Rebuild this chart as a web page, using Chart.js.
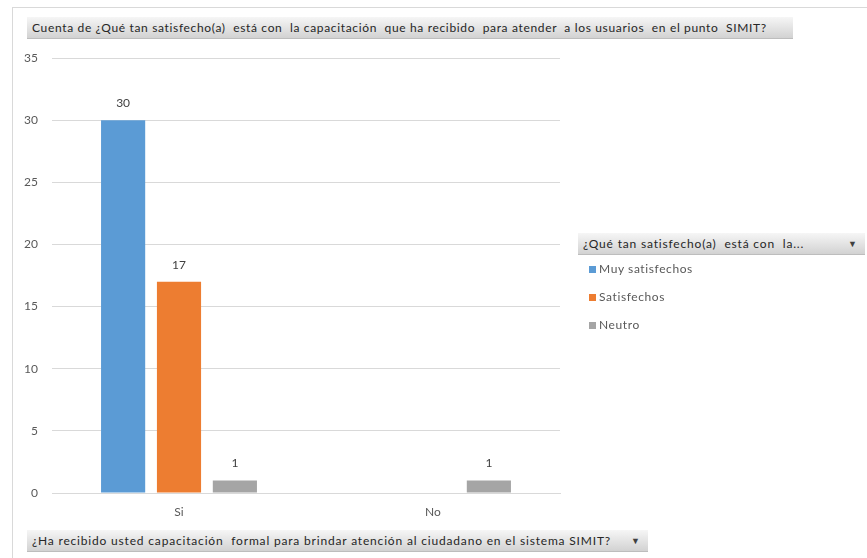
<!DOCTYPE html>
<html>
<head>
<meta charset="utf-8">
<script src="https://cdn.jsdelivr.net/npm/chart.js@4/dist/chart.umd.min.js"></script>
<style>
  html, body { margin: 0; padding: 0; background: #fff; }
  #wrap { position: relative; width: 867px; height: 558px; overflow: hidden; font-family: Lato, "Open Sans", sans-serif; }
  #frame { position: absolute; left: 12px; top: 7px; width: 900px; height: 600px; border-left: 1px solid #d9d9d9; border-top: 1px solid #d9d9d9; }
  canvas { position: absolute; left: 0; top: 0; }
  .field { position: absolute; height: 22px; line-height: 22px; font-size: 12px; color: #262626; padding-left: 5px; box-sizing: border-box;
           background: linear-gradient(#f6f6f6, #d2d2d2); border-bottom: 1px solid #bdbdbd; white-space: pre; overflow: hidden; letter-spacing: 0.66px; }
  .arrow { position: absolute; right: 8px; top: 0; font-size: 9px; color: #404040; letter-spacing: 0; }
  #legTitle, #axisField { letter-spacing: 0.82px; }
  #legend { position: absolute; left: 589px; top: 260px; font-size: 12px; color: #595959; letter-spacing: 0.6px; }
  .item { height: 28px; line-height: 18px; display: flex; align-items: flex-start; }
  .sw { width: 7px; height: 7px; margin-top: 6px; margin-right: 3px; }
</style>
</head>
<body>
<div id="wrap">
  <div id="frame"></div>
  <canvas id="c" width="867" height="558"></canvas>
  <div class="field" id="title" style="left:27px; top:17px; width:766px;"></div>
  <div class="field" id="legTitle" style="left:578px; top:233px; width:287px;"><span></span><span class="arrow">▼</span></div>
  <div id="legend"></div>
  <div class="field" id="axisField" style="left:27px; top:530px; width:621px;"><span></span><span class="arrow">▼</span></div>
</div>
<script>
// Answers to "¿Ha recibido usted capacitación formal...?"
const categories = ['Si', 'No'];
// Satisfaction level counts per answer
const seriesNames = ['Muy satisfechos', 'Satisfechos', 'Neutro'];
const muySatisfechos = [30, null];
const satisfechos = [17, null];
const neutro = [1, 1];
const yTicks = [0, 5, 10, 15, 20, 25, 30, 35];

const titleText = 'Cuenta de ¿Qué tan satisfecho(a)  está con  la capacitación  que ha recibido  para atender  a los usuarios  en el punto  SIMIT?';
const legendTitleText = '¿Qué tan satisfecho(a)  está con  la...';
const axisFieldText = '¿Ha recibido usted capacitación  formal para brindar atención al ciudadano en el sistema SIMIT?';

const colors = ['#5B9BD5', '#ED7D31', '#A5A5A5'];
const seriesData = [muySatisfechos, satisfechos, neutro];

document.getElementById('title').textContent = titleText;
document.querySelector('#legTitle span').textContent = legendTitleText;
document.querySelector('#axisField span').textContent = axisFieldText;

const legend = document.getElementById('legend');
seriesNames.forEach((name, i) => {
  const row = document.createElement('div');
  row.className = 'item';
  row.innerHTML = '<span class="sw" style="background:' + colors[i] + '"></span><span></span>';
  row.lastChild.textContent = name;
  legend.appendChild(row);
});

// Value labels above each bar
const valueLabels = {
  id: 'valueLabels',
  afterDatasetsDraw(chart) {
    const ctx = chart.ctx;
    ctx.save();
    ctx.font = '12px Lato, "Open Sans", sans-serif';
    ctx.fillStyle = '#404040';
    ctx.textAlign = 'center';
    ctx.textBaseline = 'middle';
    chart.data.datasets.forEach((ds, di) => {
      chart.getDatasetMeta(di).data.forEach((bar, i) => {
        const v = ds.data[i];
        if (v === null || v === undefined) return;
        ctx.fillText(String(v), bar.x, bar.y - 17);
      });
    });
    ctx.restore();
  }
};

new Chart(document.getElementById('c'), {
  type: 'bar',
  data: {
    labels: categories,
    datasets: seriesNames.map((name, i) => ({
      label: name,
      data: seriesData[i],
      backgroundColor: colors[i],
      categoryPercentage: 0.66,
      barPercentage: 0.79
    }))
  },
  options: {
    responsive: false,
    animation: false,
    layout: { padding: { left: 12, right: 307, top: 58, bottom: 35 } },
    plugins: { legend: { display: false }, tooltip: { enabled: false } },
    scales: {
      x: {
        grid: { display: false, drawTicks: false },
        border: { display: true, color: '#d9d9d9' },
        ticks: { color: '#595959', font: { size: 12, family: 'Lato, "Open Sans", sans-serif' }, padding: 12 },
        afterFit(scale) { scale.height = 30; }
      },
      y: {
        min: 0, max: 35,
        grid: { color: '#d9d9d9', drawTicks: false },
        border: { display: false },
        afterBuildTicks(scale) { scale.ticks = yTicks.map(v => ({ value: v })); },
        ticks: { color: '#595959', font: { size: 12, family: 'Lato, "Open Sans", sans-serif' }, padding: 14 },
        afterFit(scale) { scale.width = 40; }
      }
    }
  },
  plugins: [valueLabels]
});
</script>
</body>
</html>
